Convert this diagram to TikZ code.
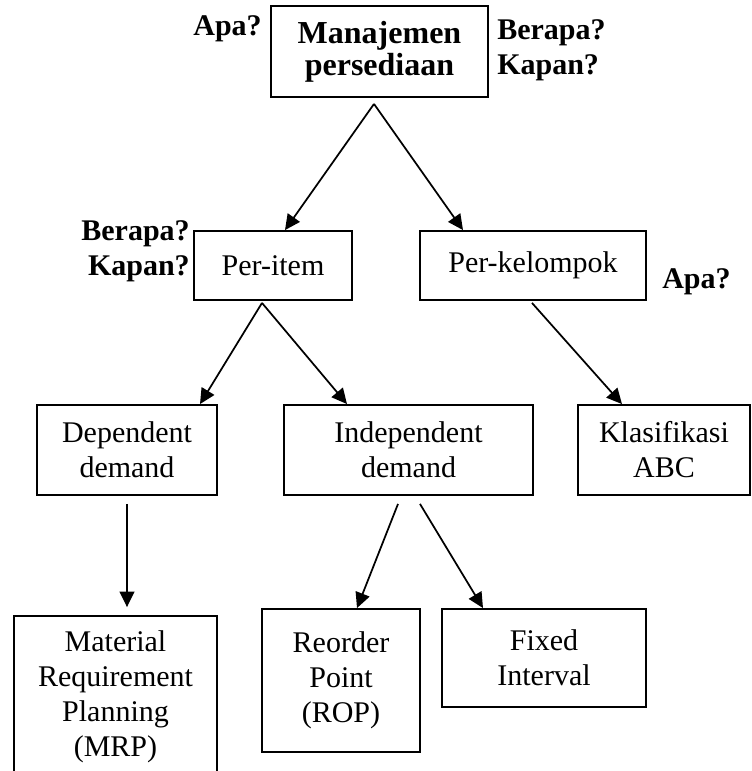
\documentclass[tikz,border=0pt]{standalone}
\usepackage{fontspec}
\setmainfont{Liberation Serif}
\usetikzlibrary{arrows.meta,calc}

\begin{document}
\begin{tikzpicture}[x=0.75pt,y=-0.75pt,
  font=\fontsize{22.5}{26.25}\selectfont,
  box/.style={draw,line width=1.4pt,align=center,inner sep=0pt},
  ask/.style={font=\bfseries\fontsize{22.5}{26.25}\selectfont,inner sep=0pt},
  arr/.style={-{Triangle[length=11.5pt,width=11pt]},line width=1.3pt}]
\useasboundingbox (0,0) rectangle (752,771);
% boxes
\node[box,minimum width=162.75pt,minimum height=68.25pt,font=\bfseries\fontsize{24}{24}\selectfont] (mgmt) at (379.5,51.5) {Manajemen\\persediaan};
\node[box,minimum width=118.5pt,minimum height=51.75pt] (item) at (273,265.5) {Per-item};
\node[box,minimum width=169.5pt,minimum height=51.75pt] (group) at (533,265.5) {Per-kelompok};
\node[box,minimum width=135pt,minimum height=67.5pt] (dep) at (127,450) {Dependent\\demand};
\node[box,minimum width=186.75pt,minimum height=67.5pt] (indep) at (408.5,450) {Independent\\demand};
\node[box,minimum width=129pt,minimum height=67.5pt] (abc) at (664,450) {Klasifikasi\\ABC};
\node[box,minimum width=152.25pt,minimum height=121.5pt] (mrp) at (115.5,697) {Material\\Requirement\\Planning\\(MRP)};
\node[box,minimum width=118.5pt,minimum height=107.25pt] (rop) at (341,680.5) {Reorder\\Point\\(ROP)};
\node[box,minimum width=153pt,minimum height=73.5pt] (fixint) at (544,658) {Fixed\\Interval};
% questions
\node[ask,anchor=base east] (q1) at (262,35) {Apa?};
\node[ask,anchor=west,align=left] (q2) at (497,50) {Berapa?\\Kapan?};
\node[ask,anchor=east,align=right] (q3) at (190,251) {Berapa?\\Kapan?};
\node[ask,anchor=base west] (q4) at (662,288) {Apa?};
% arrows
\draw[arr] ($(mgmt.south)+(-5.5,6)$) -- ($(item.north)+(12,0)$);
\draw[arr] ($(mgmt.south)+(-5.5,6)$) -- ($(group.north)+(-70,0)$);
\draw[arr] ($(item.south)+(-11,2)$) -- ($(dep.north)+(73,0)$);
\draw[arr] ($(item.south)+(-11,2)$) -- ($(indep.north)+(-61.5,0)$);
\draw[arr] ($(group.south)+(-1,2)$) -- ($(abc.north)+(-42,0)$);
\draw[arr] ($(dep.south)+(0,8)$) -- ($(mrp.north)+(11.5,-8)$);
\draw[arr] ($(indep.south)+(-10.5,8)$) -- ($(rop.north)+(16,0)$);
\draw[arr] ($(indep.south)+(11.5,8)$) -- ($(fixint.north)+(-61,0)$);
\end{tikzpicture}
\end{document}
